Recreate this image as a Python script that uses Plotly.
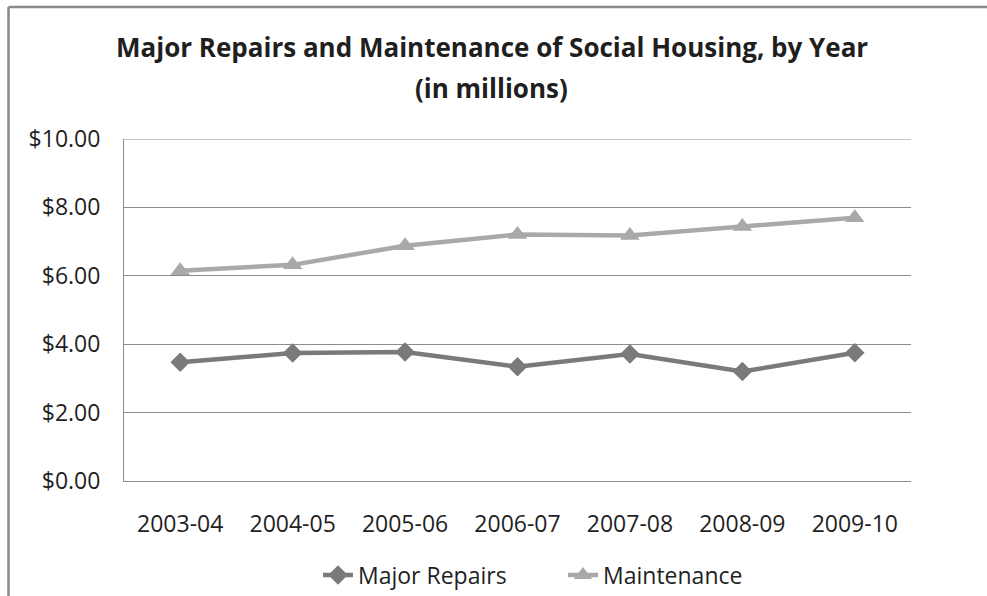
import plotly.graph_objects as go

# Fiscal years on the category axis
years = ["2003-04", "2004-05", "2005-06", "2006-07", "2007-08", "2008-09", "2009-10"]

# Spending per year, in millions of dollars
major_repairs = [3.47, 3.74, 3.77, 3.34, 3.71, 3.20, 3.75]
maintenance = [6.15, 6.32, 6.88, 7.21, 7.18, 7.44, 7.70]

y_ticks = [0, 2, 4, 6, 8, 10]
y_tick_text = ["$0.00", "$2.00", "$4.00", "$6.00", "$8.00", "$10.00"]

title_lines = ["Major Repairs and Maintenance of Social Housing, by Year", "(in millions)"]

FONT = "Open Sans"
TEXT = "#1f1f1f"
GRID = "#8c8c8c"

fig = go.Figure()
fig.add_trace(go.Scatter(
    x=years, y=major_repairs, name="Major Repairs", mode="lines+markers",
    line=dict(color="#7a7a7a", width=4.5),
    marker=dict(symbol="diamond", size=15, color="#7a7a7a"),
))
fig.add_trace(go.Scatter(
    x=years, y=maintenance, name="Maintenance", mode="lines+markers",
    line=dict(color="#a9a9a9", width=4.5),
    marker=dict(symbol="triangle-up", size=17, color="#a9a9a9"),
))

L, R, T, B = 124, 76, 139, 115
W, H = 987, 596
pw, ph = W - L - R, H - T - B

def px_x(p):
    return (p - L) / pw

def px_y(p):
    return (H - B - p) / ph

annotations = [
    dict(text=f"<b>{line}</b>", xref="paper", yref="paper",
         x=px_x(491.5), y=px_y(yc), xanchor="center", yanchor="middle",
         showarrow=False, font=dict(family=FONT, size=26, color=TEXT))
    for line, yc in zip(title_lines, [47, 88])
]

fig.update_layout(
    width=W, height=H,
    margin=dict(l=L, r=R, t=T, b=B, autoexpand=False),
    paper_bgcolor="white", plot_bgcolor="white",
    font=dict(family=FONT, color=TEXT, size=23),
    showlegend=True,
    legend=dict(
        orientation="h", xref="container", x=318 / W, xanchor="left",
        yref="container", y=1 - 575 / H, yanchor="middle",
        font=dict(family=FONT, size=23, color=TEXT),
        bgcolor="rgba(0,0,0,0)", entrywidth=200, entrywidthmode="pixels",
    ),
    xaxis=dict(
        type="category", showgrid=False, showline=True, linecolor=GRID, linewidth=1,
        ticks="", ticklabelstandoff=22, tickfont=dict(size=23),
        range=[-0.5, len(years) - 0.5], zeroline=False,
    ),
    yaxis=dict(
        range=[0, 10], tickvals=y_ticks, ticktext=y_tick_text,
        showgrid=True, gridcolor=GRID, gridwidth=1,
        showline=True, linecolor=GRID, linewidth=1,
        ticks="", ticklabelstandoff=18, tickfont=dict(size=23), zeroline=False,
    ),
    annotations=annotations,
    shapes=[
        # gridline along the top of the value axis
        dict(type="line", xref="paper", yref="y", x0=0, x1=1,
             y0=y_ticks[-1], y1=y_ticks[-1], layer="below",
             line=dict(color=GRID, width=1)),
        # chart frame: top and left edges
        dict(type="line", xref="paper", yref="paper",
             x0=px_x(8.5), x1=px_x(W), y0=px_y(7), y1=px_y(7),
             line=dict(color="#898989", width=2.5)),
        dict(type="line", xref="paper", yref="paper",
             x0=px_x(8.5), x1=px_x(8.5), y0=px_y(7), y1=px_y(H),
             line=dict(color="#898989", width=2.5)),
    ],
)

fig.write_html("out.html")
